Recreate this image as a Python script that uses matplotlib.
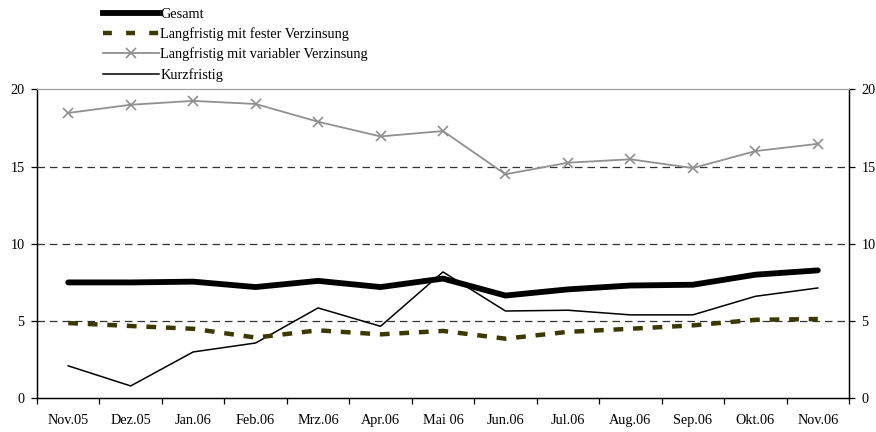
import matplotlib
matplotlib.use("Agg")
import matplotlib.pyplot as plt
from matplotlib.lines import Line2D
import numpy as np

plt.rcParams['font.family'] = ['Liberation Serif', 'DejaVu Serif']

categories = ["Nov.05", "Dez.05", "Jan.06", "Feb.06", "Mrz.06", "Apr.06", "Mai 06",
              "Jun.06", "Jul.06", "Aug.06", "Sep.06", "Okt.06", "Nov.06"]
gesamt = [7.5, 7.5, 7.55, 7.2, 7.6, 7.2, 7.75, 6.65, 7.05, 7.3, 7.35, 8.0, 8.28]
fest = [4.87, 4.68, 4.5, 3.93, 4.4, 4.14, 4.36, 3.86, 4.3, 4.5, 4.72, 5.08, 5.13]
variabel = [18.47, 19.0, 19.25, 19.05, 17.9, 16.95, 17.3, 14.5, 15.25, 15.47, 14.9, 16.0, 16.47]
kurz = [2.1, 0.8, 3.0, 3.58, 5.85, 4.66, 8.18, 5.65, 5.7, 5.4, 5.4, 6.6, 7.14]
yticks = [0, 5, 10, 15, 20]

FS = 10.3

fig = plt.figure(figsize=(8.76, 4.32), dpi=100)
ax = fig.add_axes([37/876, 1 - 398.3/432, (849-37)/876, (398.3-89.3)/432])
x = np.arange(len(categories))

for yv in [5, 10, 15]:
    ax.axhline(yv, color='#333333', lw=0.9, ls=(0, (6, 4)), zorder=1)

ax.plot(x, variabel, color='#909090', lw=1.3, marker='x', ms=7, mew=1.2, zorder=3)
ax.plot(x, kurz, color='black', lw=1.1, zorder=4)
ax.plot(x, fest, color='#3a3a00', lw=3.2, ls=(0, (2.2, 2.2)), zorder=4)
ax.plot(x, gesamt, color='black', lw=4.2, solid_capstyle='round', zorder=5)

ax.set_xlim(-0.5, len(categories) - 0.5)
ax.set_ylim(0, 20)
ax.set_yticks(yticks)
ax.set_xticks(x)
ax.set_xticklabels(categories, fontsize=FS)
ax.set_xticks(np.arange(len(categories) + 1) - 0.5, minor=True)
ax.tick_params(axis='x', which='major', length=0, pad=11)
ax.tick_params(axis='x', which='minor', length=4, direction='out', width=0.9)
ax.tick_params(axis='y', length=4, direction='out', labelsize=FS, width=0.9, pad=5)
ax.spines['top'].set_color('#a0a0a0')
for s in ['left', 'bottom', 'right']:
    ax.spines[s].set_linewidth(1.0)

ax2 = ax.twinx()
ax2.set_ylim(0, 20)
ax2.set_yticks(yticks)
ax2.tick_params(axis='y', length=4, direction='out', labelsize=FS, width=0.9, pad=5)
ax2.spines['top'].set_color('#a0a0a0')

handles = [
    Line2D([], [], color='black', lw=4.2),
    Line2D([], [], color='#3a3a00', lw=3.2, ls=(0, (2.0, 3.2))),
    Line2D([], [], color='#909090', lw=1.3, marker='x', ms=7, mew=1.2),
    Line2D([], [], color='black', lw=1.1),
]
labels = ["Gesamt", "Langfristig mit fester Verzinsung",
          "Langfristig mit variabler Verzinsung", "Kurzfristig"]
fig.legend(handles, labels, loc='upper left', bbox_to_anchor=(93/876, 1 + 2/432),
           frameon=False, fontsize=FS, handlelength=3.9, handletextpad=0.1,
           labelspacing=0.45, borderpad=0.2)

fig.savefig("out.png", dpi=100)
